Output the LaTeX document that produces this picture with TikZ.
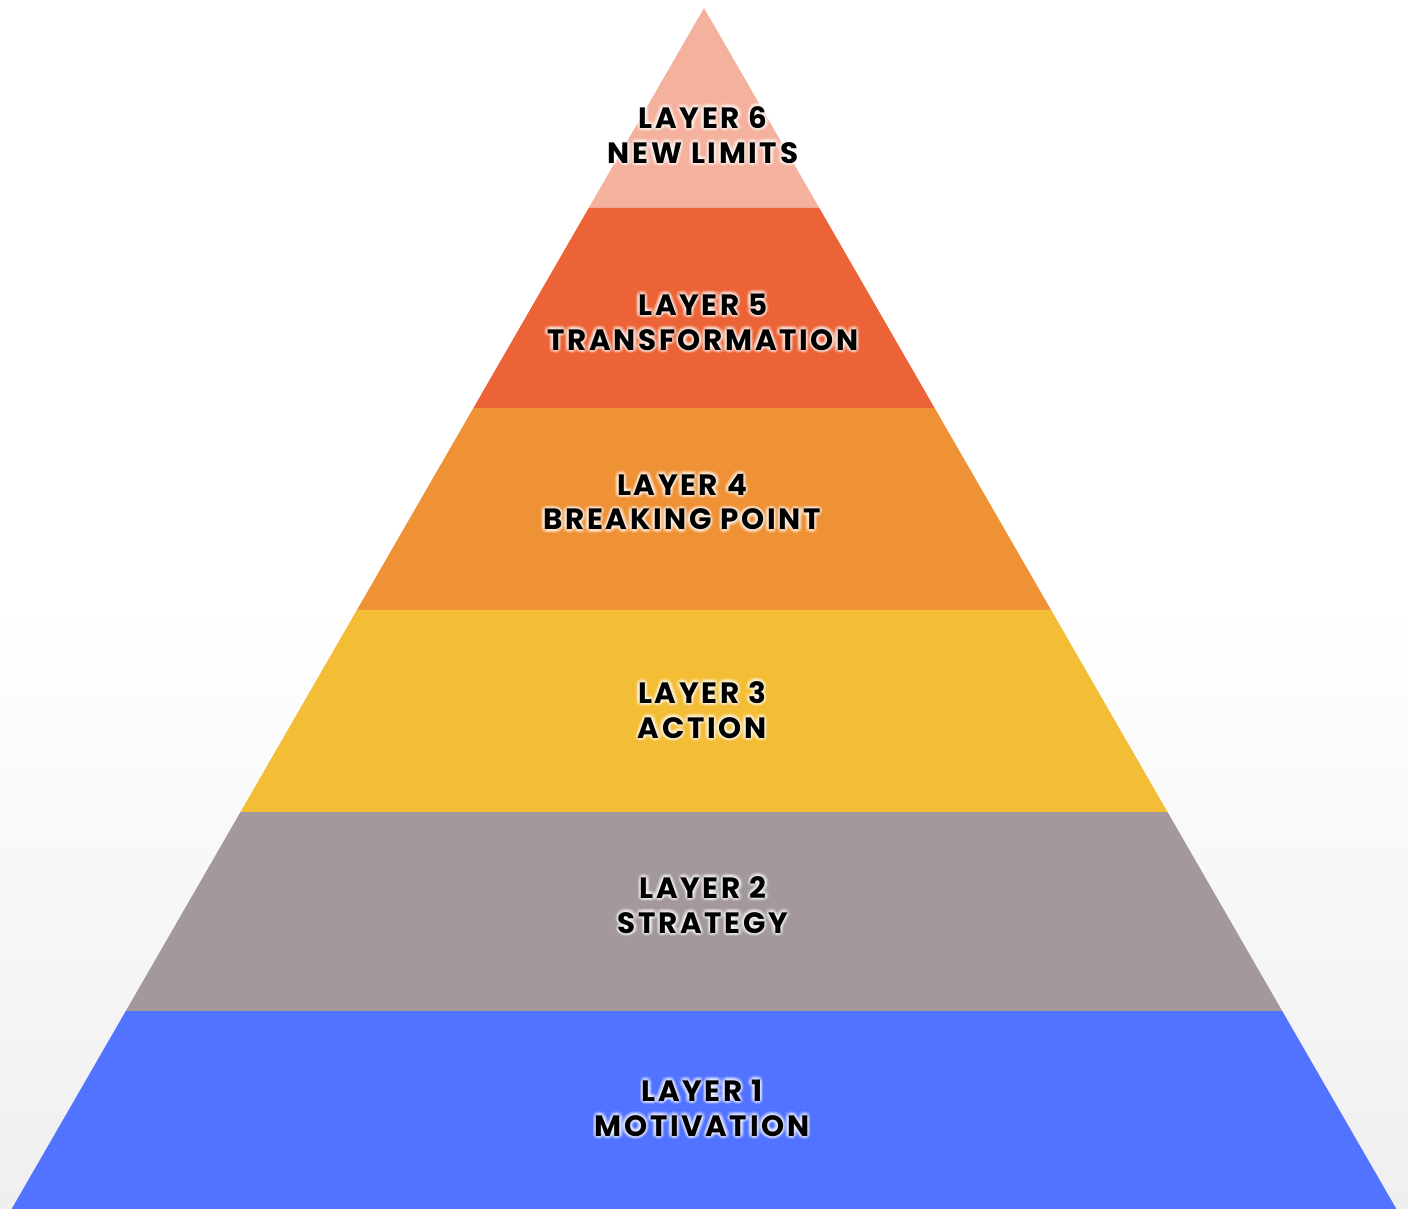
\documentclass[tikz,border=0pt]{standalone}
\usepackage{fontspec}
\newfontfamily\popfont{Poppins}[LetterSpace=9]
\usetikzlibrary{calc}
\definecolor{bggrey}{RGB}{239,239,239}
\definecolor{lsix}{RGB}{244,178,158}
\definecolor{lfive}{RGB}{235,99,54}
\definecolor{lfour}{RGB}{239,145,53}
\definecolor{lthree}{RGB}{243,189,54}
\definecolor{ltwo}{RGB}{163,152,154}
\definecolor{lone}{RGB}{82,115,255}
\tikzset{
  layerfill/.style={fill=#1, draw=none},
  lbl/.style={align=center, font=\popfont\bfseries\fontsize{14.7}{17.4}\selectfont, text=black, inner sep=0pt},
  glow/.style={lbl, text=white, text opacity=0.2}
}
\newcommand{\glowlabel}[3]{%
  \foreach \dx/\dy in {-2/0,2/0,0/-2,0/2,-1.5/-1.5,1.5/1.5,-1.5/1.5,1.5/-1.5,-3.5/0,3.5/0,0/3.5,0/-3.5,-2.5/-2.5,2.5/2.5,-2.5/2.5,2.5/-2.5}{
    \node[glow] at ($(#1)+(\dx,\dy)$) {#3};
  }
  \node[lbl] (#2) at (#1) {#3};
}
\begin{document}
\begin{tikzpicture}[x=0.5pt,y=-0.5pt]
\useasboundingbox (0,0) rectangle (1408,1209);
\fill[white] (0,0) rectangle (1408,600);
\shade[top color=white, bottom color=bggrey] (0,599) rectangle (1408,1209);
% layers
\fill[layerfill=lsix]   (704,8) -- (819.3,208) -- (588.7,208) -- cycle;
\fill[layerfill=lfive]  (588.7,208) -- (819.3,208) -- (934.6,408) -- (473.4,408) -- cycle;
\fill[layerfill=lfour]  (473.4,408) -- (934.6,408) -- (1051.1,610) -- (356.9,610) -- cycle;
\fill[layerfill=lthree] (356.9,610) -- (1051.1,610) -- (1167.5,812) -- (240.5,812) -- cycle;
\fill[layerfill=ltwo]   (240.5,812) -- (1167.5,812) -- (1282.2,1011) -- (125.8,1011) -- cycle;
\fill[layerfill=lone]   (125.8,1011) -- (1282.2,1011) -- (1396.4,1209) -- (11.6,1209) -- cycle;
% labels
\coordinate (p6) at (703,135);
\coordinate (p5) at (703,322);
\coordinate (p4) at (682,502);
\coordinate (p3) at (702,710);
\coordinate (p2) at (703,905);
\coordinate (p1) at (702,1108);
\glowlabel{p6}{t6}{LAYER 6\\NEW LIMITS}
\glowlabel{p5}{t5}{LAYER 5\\TRANSFORMATION}
\glowlabel{p4}{t4}{LAYER 4\\BREAKING POINT}
\glowlabel{p3}{t3}{LAYER 3\\ACTION}
\glowlabel{p2}{t2}{LAYER 2\\STRATEGY}
\glowlabel{p1}{t1}{LAYER 1\\MOTIVATION}
\end{tikzpicture}
\end{document}
